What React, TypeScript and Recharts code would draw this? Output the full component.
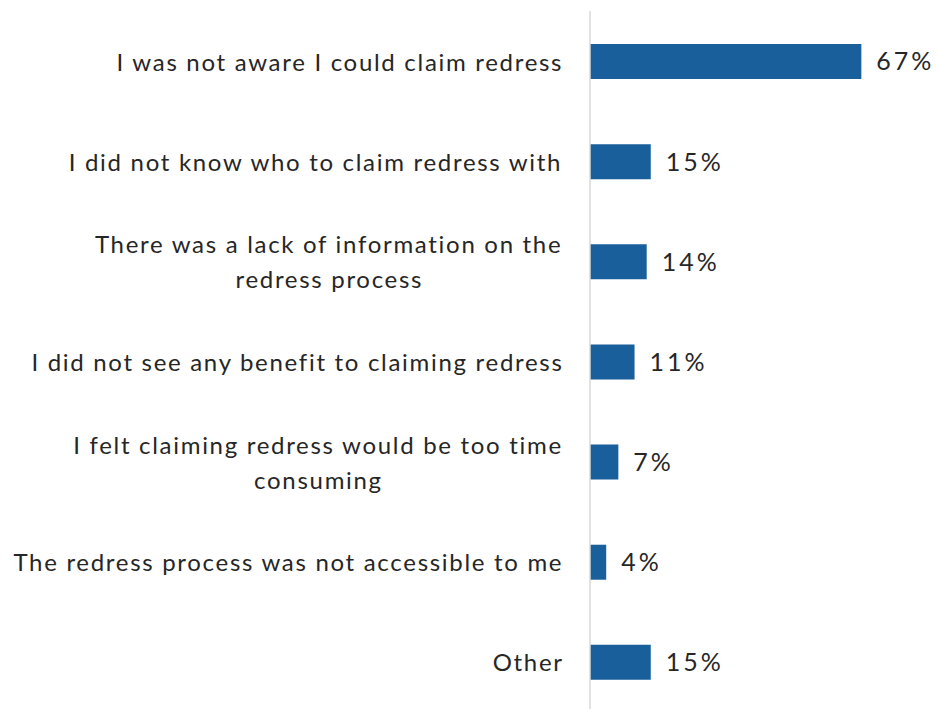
import React from "react";
import { BarChart, Bar, XAxis, YAxis, LabelList } from "recharts";

const categories = [
  "I was not aware I could claim redress",
  "I did not know who to claim redress with",
  "There was a lack of information on the\nredress process",
  "I did not see any benefit to claiming redress",
  "I felt claiming redress would be too time\nconsuming",
  "The redress process was not accessible to me",
  "Other",
];
const values = [67, 15, 14, 11, 7, 4, 15];

const data = categories.map((c, i) => ({ name: c, value: values[i] }));

const FONT = "Lato, 'Open Sans', sans-serif";
const FONT_SIZE = 24;
const LETTER_SPACING = 1.7;
const TEXT_COLOR = "#262626";
const BAR_COLOR = "#185f9c";

let ctx: CanvasRenderingContext2D | null = null;
function measure(s: string): number {
  if (!ctx) {
    const c = document.createElement("canvas");
    ctx = c.getContext("2d");
  }
  if (!ctx) return s.length * FONT_SIZE * 0.5;
  ctx.font = `${FONT_SIZE}px Lato`;
  return ctx.measureText(s).width + LETTER_SPACING * s.length;
}

const CategoryTick = (props: any) => {
  const { x, y, payload } = props;
  const lines: string[] = String(payload.value).split("\n");
  const maxW = Math.max(...lines.map(measure));
  const lineH = 35;
  const right = x + LETTER_SPACING;
  const startY = y - ((lines.length - 1) * lineH) / 2;
  return (
    <g>
      {lines.map((l, i) => {
        const w = measure(l);
        return (
          <text
            key={i}
            x={right - maxW + (maxW - w) / 2}
            y={startY + i * lineH}
            textAnchor="start"
            dominantBaseline="central"
            fill={TEXT_COLOR}
            fontFamily={FONT}
            fontSize={FONT_SIZE}
            letterSpacing={LETTER_SPACING}
          >
            {l}
          </text>
        );
      })}
    </g>
  );
};

export default function App() {
  return (
    <div style={{ position: "absolute", left: 0, top: 0, background: "#fff" }}>
      <BarChart
        width={938}
        height={712}
        data={data}
        layout="vertical"
        margin={{ top: 11, right: 24, bottom: 0, left: 0 }}
        barCategoryGap={0}
      >
        <XAxis type="number" domain={[0, 80]} hide />
        <YAxis
          type="category"
          dataKey="name"
          width={590}
          axisLine={{ stroke: "#d9d9d9", strokeWidth: 1.5 }}
          tickLine={false}
          tick={<CategoryTick />}
          tickMargin={22}
          interval={0}
        />
        <Bar dataKey="value" fill={BAR_COLOR} barSize={35} isAnimationActive={false}>
          <LabelList
            dataKey="value"
            position="right"
            offset={15}
            formatter={(v: any) => `${v}%`}
            fill={TEXT_COLOR}
            fontFamily={FONT}
            fontSize={25}
            letterSpacing={3}
          />
        </Bar>
      </BarChart>
    </div>
  );
}
